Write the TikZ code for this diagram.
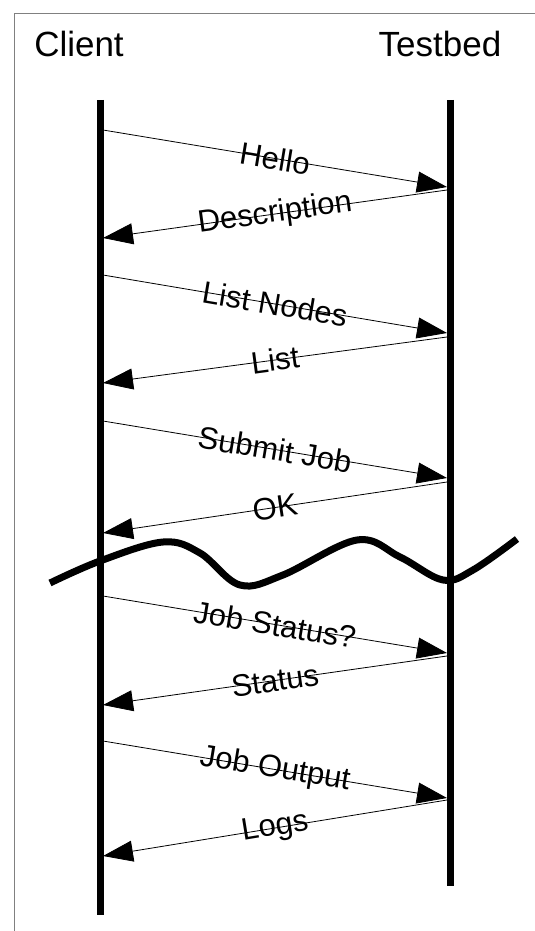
\documentclass[tikz,border=0pt]{standalone}
\usepackage{fontspec}
\setmainfont{Liberation Sans}
\usetikzlibrary{arrows.meta}
\tikzstyle{lifeline} = [line width=7pt]
\tikzstyle{msg} = [line width=0.8pt, -{Triangle[length=30pt,width=21pt]}]
\tikzstyle{party} = [font=\fontsize{35}{42}\selectfont, anchor=base]
\tikzstyle{lbl} = [font=\fontsize{31}{37}\selectfont, sloped, midway, inner sep=0pt]
\tikzstyle{cut} = [line width=7pt]

\begin{document}
\begin{tikzpicture}[x=1pt,y=-1pt]
  \clip (0,0) rectangle (535,931);
  \draw[gray, line width=1.5pt] (14.5,13.5) rectangle (600,1000);

  \node[party] (client) at (79,57) {Client};
  \node[party] (testbed) at (440,57) {Testbed};

  % lifelines
  \coordinate (cTop) at (100,100);
  \coordinate (cBot) at (100,915);
  \coordinate (tTop) at (450,100);
  \coordinate (tBot) at (450,886);
  \draw[lifeline] (cTop) -- (cBot);
  \draw[lifeline] (tTop) -- (tBot);

  % message ends
  \coordinate (c1) at (103,130);  \coordinate (t1) at (447,187);
  \coordinate (t2) at (447,190);  \coordinate (c2) at (103,238);
  \coordinate (c3) at (103,275);  \coordinate (t3) at (447,333);
  \coordinate (t4) at (447,337);  \coordinate (c4) at (103,383);
  \coordinate (c5) at (103,421);  \coordinate (t5) at (447,478);
  \coordinate (t6) at (447,482);  \coordinate (c6) at (103,533);
  \coordinate (c7) at (103,596);  \coordinate (t7) at (447,653);
  \coordinate (t8) at (447,656);  \coordinate (c8) at (103,705);
  \coordinate (c9) at (103,741);  \coordinate (t9) at (447,798);
  \coordinate (t10) at (447,800); \coordinate (c10) at (103,856);

  \draw[msg] (c1) -- node[lbl] {Hello} (t1);
  \draw[msg] (t2) -- node[lbl] {Description} (c2);
  \draw[msg] (c3) -- node[lbl] {List Nodes} (t3);
  \draw[msg] (t4) -- node[lbl] {List} (c4);
  \draw[msg] (c5) -- node[lbl] {Submit Job} (t5);
  \draw[msg] (t6) -- node[lbl] {OK} (c6);
  \draw[msg] (c7) -- node[lbl] {Job Status?} (t7);
  \draw[msg] (t8) -- node[lbl] {Status} (c8);
  \draw[msg] (c9) -- node[lbl] {Job Output} (t9);
  \draw[msg] (t10) -- node[lbl] {Logs} (c10);

  % time gap
  \draw[cut] plot[smooth, tension=0.6] coordinates {(50,583) (100,561) (163,542) (200,553) (240,585) (283,575) (357,540) (400,557) (443,580) (473,570) (517,539)};
\end{tikzpicture}
\end{document}
